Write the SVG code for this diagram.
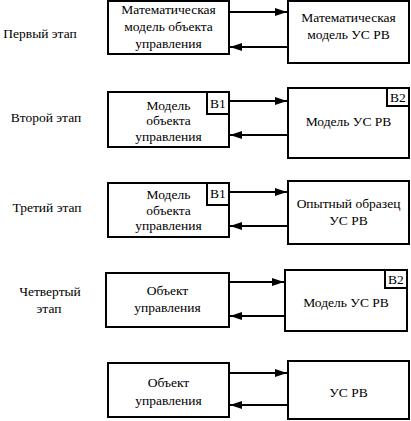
<svg xmlns="http://www.w3.org/2000/svg" width="411" height="421" viewBox="0 0 411 421">
<defs>
<marker id="ah" markerWidth="12" markerHeight="8" refX="12" refY="4" orient="auto" markerUnits="userSpaceOnUse">
<path d="M0,0 L12,4 L0,8 Z" fill="#000"/>
</marker>
</defs>
<style>
rect{fill:#fff;stroke:#000;stroke-width:2}
text{font-size:13.5px;fill:#000;text-anchor:middle}
.c line{stroke:#000;stroke-width:1.8;marker-end:url(#ah)}
</style>
<rect x="0" y="0" width="411" height="421" style="fill:#fff;stroke:none"/>
<g font-family="'Liberation Serif', 'DejaVu Serif', serif">
<g id="labels">
<text x="40" y="38">Первый этап</text>
<text x="46" y="122">Второй этап</text>
<text x="47" y="212">Третий этап</text>
<text x="50" y="296">Четвертый</text>
<text x="49" y="313">этап</text>
</g>
<g id="n1a"><rect x="108" y="1" width="121" height="53"/>
<text x="168.5" y="14">Математическая</text><text x="168.5" y="31">модель объекта</text><text x="168.5" y="48">управления</text></g>
<g id="n1b"><rect x="288" y="1" width="121" height="62"/>
<text x="348.5" y="22">Математическая</text><text x="348.5" y="39">модель УС РВ</text></g>
<g id="n2a"><rect x="108" y="92" width="121" height="55"/>
<text x="168.5" y="110">Модель</text><text x="168.5" y="125">объекта</text><text x="168.5" y="141">управления</text>
<rect x="207" y="92" width="22" height="22"/><text x="218" y="108">В1</text></g>
<g id="n2b"><rect x="288" y="88" width="121" height="70"/>
<text x="348.5" y="126">Модель УС РВ</text>
<rect x="387" y="88" width="22" height="18"/><text x="398" y="102">В2</text></g>
<g id="n3a"><rect x="108" y="183" width="121" height="54"/>
<text x="168.5" y="199">Модель</text><text x="168.5" y="215">объекта</text><text x="168.5" y="230">управления</text>
<rect x="207" y="183" width="22" height="22"/><text x="218" y="198">В1</text></g>
<g id="n3b"><rect x="288" y="181" width="121" height="63"/>
<text x="348.5" y="208">Опытный образец</text><text x="348.5" y="225">УС РВ</text></g>
<g id="n4a"><rect x="106" y="273" width="123" height="54"/>
<text x="167.5" y="295">Объект</text><text x="167.5" y="312">управления</text></g>
<g id="n4b"><rect x="285" y="270" width="122" height="61"/>
<text x="346" y="307">Модель УС РВ</text>
<rect x="385" y="270" width="22" height="18"/><text x="396" y="284">В2</text></g>
<g id="n5a"><rect x="108" y="363" width="121" height="54"/>
<text x="168.5" y="387">Объект</text><text x="168.5" y="405">управления</text></g>
<g id="n5b"><rect x="288" y="361" width="121" height="58"/>
<text x="348.5" y="397">УС РВ</text></g>
</g>
<g id="connectors" class="c">
<line x1="230" y1="12" x2="287" y2="12"/>
<line x1="287" y1="47" x2="230" y2="47"/>
<line x1="230" y1="101" x2="287" y2="101"/>
<line x1="287" y1="135" x2="230" y2="135"/>
<line x1="230" y1="192" x2="287" y2="192"/>
<line x1="287" y1="226" x2="230" y2="226"/>
<line x1="230" y1="282" x2="284" y2="282"/>
<line x1="284" y1="316" x2="230" y2="316"/>
<line x1="230" y1="373" x2="287" y2="373"/>
<line x1="287" y1="405" x2="230" y2="405"/>
</g>
</svg>
